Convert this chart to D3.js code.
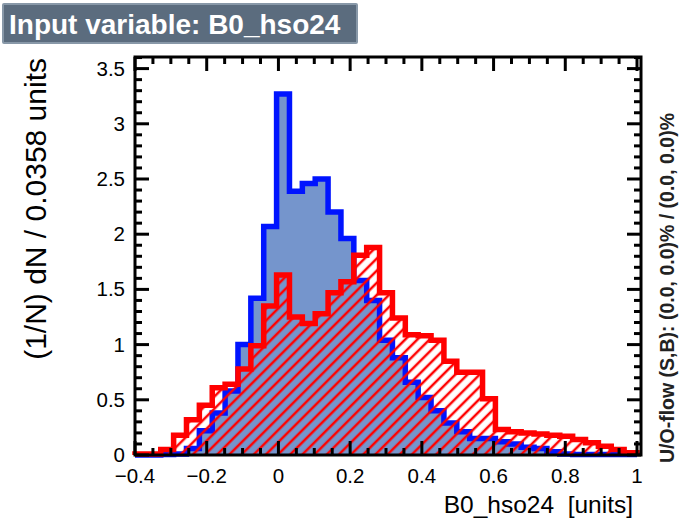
<!DOCTYPE html>
<html><head><meta charset="utf-8">
<script src="https://cdn.jsdelivr.net/npm/d3@7"></script>
<style>body{margin:0;background:#fff}svg{display:block;font-family:"Liberation Sans",Arial,sans-serif}text{white-space:pre}</style>
</head><body><svg id="c" width="685" height="526"></svg>
<script>
const xMin = -0.4, xMax = 1.0, nBins = 39;
const signal = [0.0,0.0,0.005,0.01,0.06,0.22,0.38,0.58,1.0,1.42,
  2.07,3.27,2.39,2.46,2.50,2.20,1.96,1.58,1.40,1.04,
  0.88,0.66,0.52,0.40,0.29,0.21,0.15,0.15,0.12,0.10,
  0.07,0.06,0.03,0.01,0.005,0.005,0.005,0.005,0.005];
const background = [0.01,0.01,0.05,0.18,0.32,0.45,0.61,0.64,0.78,0.99,
  1.35,1.63,1.25,1.19,1.28,1.47,1.57,1.81,1.88,1.47,
  1.24,1.09,1.08,1.04,0.85,0.75,0.75,0.51,0.23,0.21,
  0.20,0.19,0.18,0.17,0.14,0.11,0.08,0.05,0.02];
const xTicks = [-0.4,-0.2,0,0.2,0.4,0.6,0.8,1.0];
const yTicks = [0,0.5,1,1.5,2,2.5,3,3.5];
const yMax = 3.605;
const title = "Input variable: B0_hso24";
const xTitle = "B0_hso24  [units]";
const yTitle = "(1/N) dN / 0.0358 units";
const flowText = "U/O-flow (S,B): (0.0, 0.0)% / (0.0, 0.0)%";

const L = 135, R = 637, T = 57, B = 455;
const svg = d3.select("#c");
const x = d3.scaleLinear().domain([xMin, xMax]).range([L, R]);
const y = d3.scaleLinear().domain([0, yMax]).range([B, T]);
const bw = (xMax - xMin) / nBins;

const defs = svg.append("defs");
defs.append("pattern").attr("id","hatch").attr("patternUnits","userSpaceOnUse")
  .attr("width",8.6).attr("height",8.6).attr("patternTransform","rotate(45)")
  .append("line").attr("x1",2).attr("y1",0).attr("x2",2).attr("y2",8.6)
  .attr("stroke","#ff0000").attr("stroke-width",2.5);

function pts(vals){
  const p = [[xMin,0]];
  vals.forEach((v,i)=>{ p.push([xMin+i*bw, v]); p.push([xMin+(i+1)*bw, v]); });
  p.push([xMin+vals.length*bw, 0]);
  return p;
}
const line = d3.line().x(d=>x(d[0])).y(d=>y(d[1]));

// signal
svg.append("path").attr("d", line(pts(signal))+"Z").attr("fill","#7595cc").attr("stroke","none");
svg.append("path").attr("d", line(pts(signal))).attr("fill","none").attr("stroke","#0014ff").attr("stroke-width",5.5).attr("stroke-linejoin","miter");
// background
svg.append("path").attr("d", line(pts(background))+"Z").attr("fill","url(#hatch)").attr("stroke","none");
svg.append("path").attr("d", line(pts(background))).attr("fill","none").attr("stroke","#ff0000").attr("stroke-width",5.5).attr("stroke-linejoin","miter");

// frame
const Rf = R+4;
svg.append("rect").attr("x",L).attr("y",T).attr("width",Rf-L).attr("height",B-T)
  .attr("fill","none").attr("stroke","#000").attr("stroke-width",3);

// ticks
const g = svg.append("g").attr("stroke","#000").attr("stroke-width",3);
const xMinor = d3.range(-0.4, 1.0001, 0.05);
xMinor.forEach(v=>{
  const major = xTicks.some(t=>Math.abs(t-v)<1e-6);
  const len = major ? 14 : 7;
  g.append("line").attr("x1",x(v)).attr("x2",x(v)).attr("y1",B).attr("y2",B-len);
  g.append("line").attr("x1",x(v)).attr("x2",x(v)).attr("y1",T).attr("y2",T+len);
});
const yMinor = d3.range(0, 3.6001, 0.1);
yMinor.forEach(v=>{
  const major = yTicks.some(t=>Math.abs(t-v)<1e-6);
  const len = major ? 14 : 7;
  g.append("line").attr("x1",L).attr("x2",L+len).attr("y1",y(v)).attr("y2",y(v));
  g.append("line").attr("x1",Rf).attr("x2",Rf-len).attr("y1",y(v)).attr("y2",y(v));
});

// tick labels
const fmt = v => (v<0 ? "\u2212" : "") + String(Math.abs(v));
svg.selectAll(".xl").data(xTicks).enter().append("text")
  .attr("x",d=>x(d)).attr("y",B+28).attr("text-anchor","middle")
  .attr("font-size",20.5).attr("fill","#000").text(fmt);
svg.selectAll(".yl").data(yTicks).enter().append("text")
  .attr("x",L-10).attr("y",d=>y(d)+7).attr("text-anchor","end")
  .attr("font-size",20.5).attr("fill","#000").text(d=>String(d));

// axis titles
svg.append("text").attr("x",633).attr("y",513).attr("text-anchor","end")
  .attr("font-size",24.5).attr("fill","#000").text(xTitle);
svg.append("text").attr("transform","translate(46,"+(T+1)+") rotate(-90)")
  .attr("text-anchor","end").attr("font-size",30).attr("fill","#000").text(yTitle);

// flow text
svg.append("text").attr("transform","translate(674,463) rotate(-90)")
  .attr("text-anchor","start").attr("font-size",19.5).attr("font-weight","bold").attr("fill","#222").text(flowText);

// title box
svg.append("rect").attr("x",3).attr("y",4).attr("width",354).attr("height",39)
  .attr("fill","#5b6c7e").attr("stroke","#8898a8").attr("stroke-width",2).attr("rx",1);
svg.append("text").attr("x",9).attr("y",34).attr("font-size",28).attr("font-weight","bold")
  .attr("fill","#fff").text(title);
</script></body></html>
